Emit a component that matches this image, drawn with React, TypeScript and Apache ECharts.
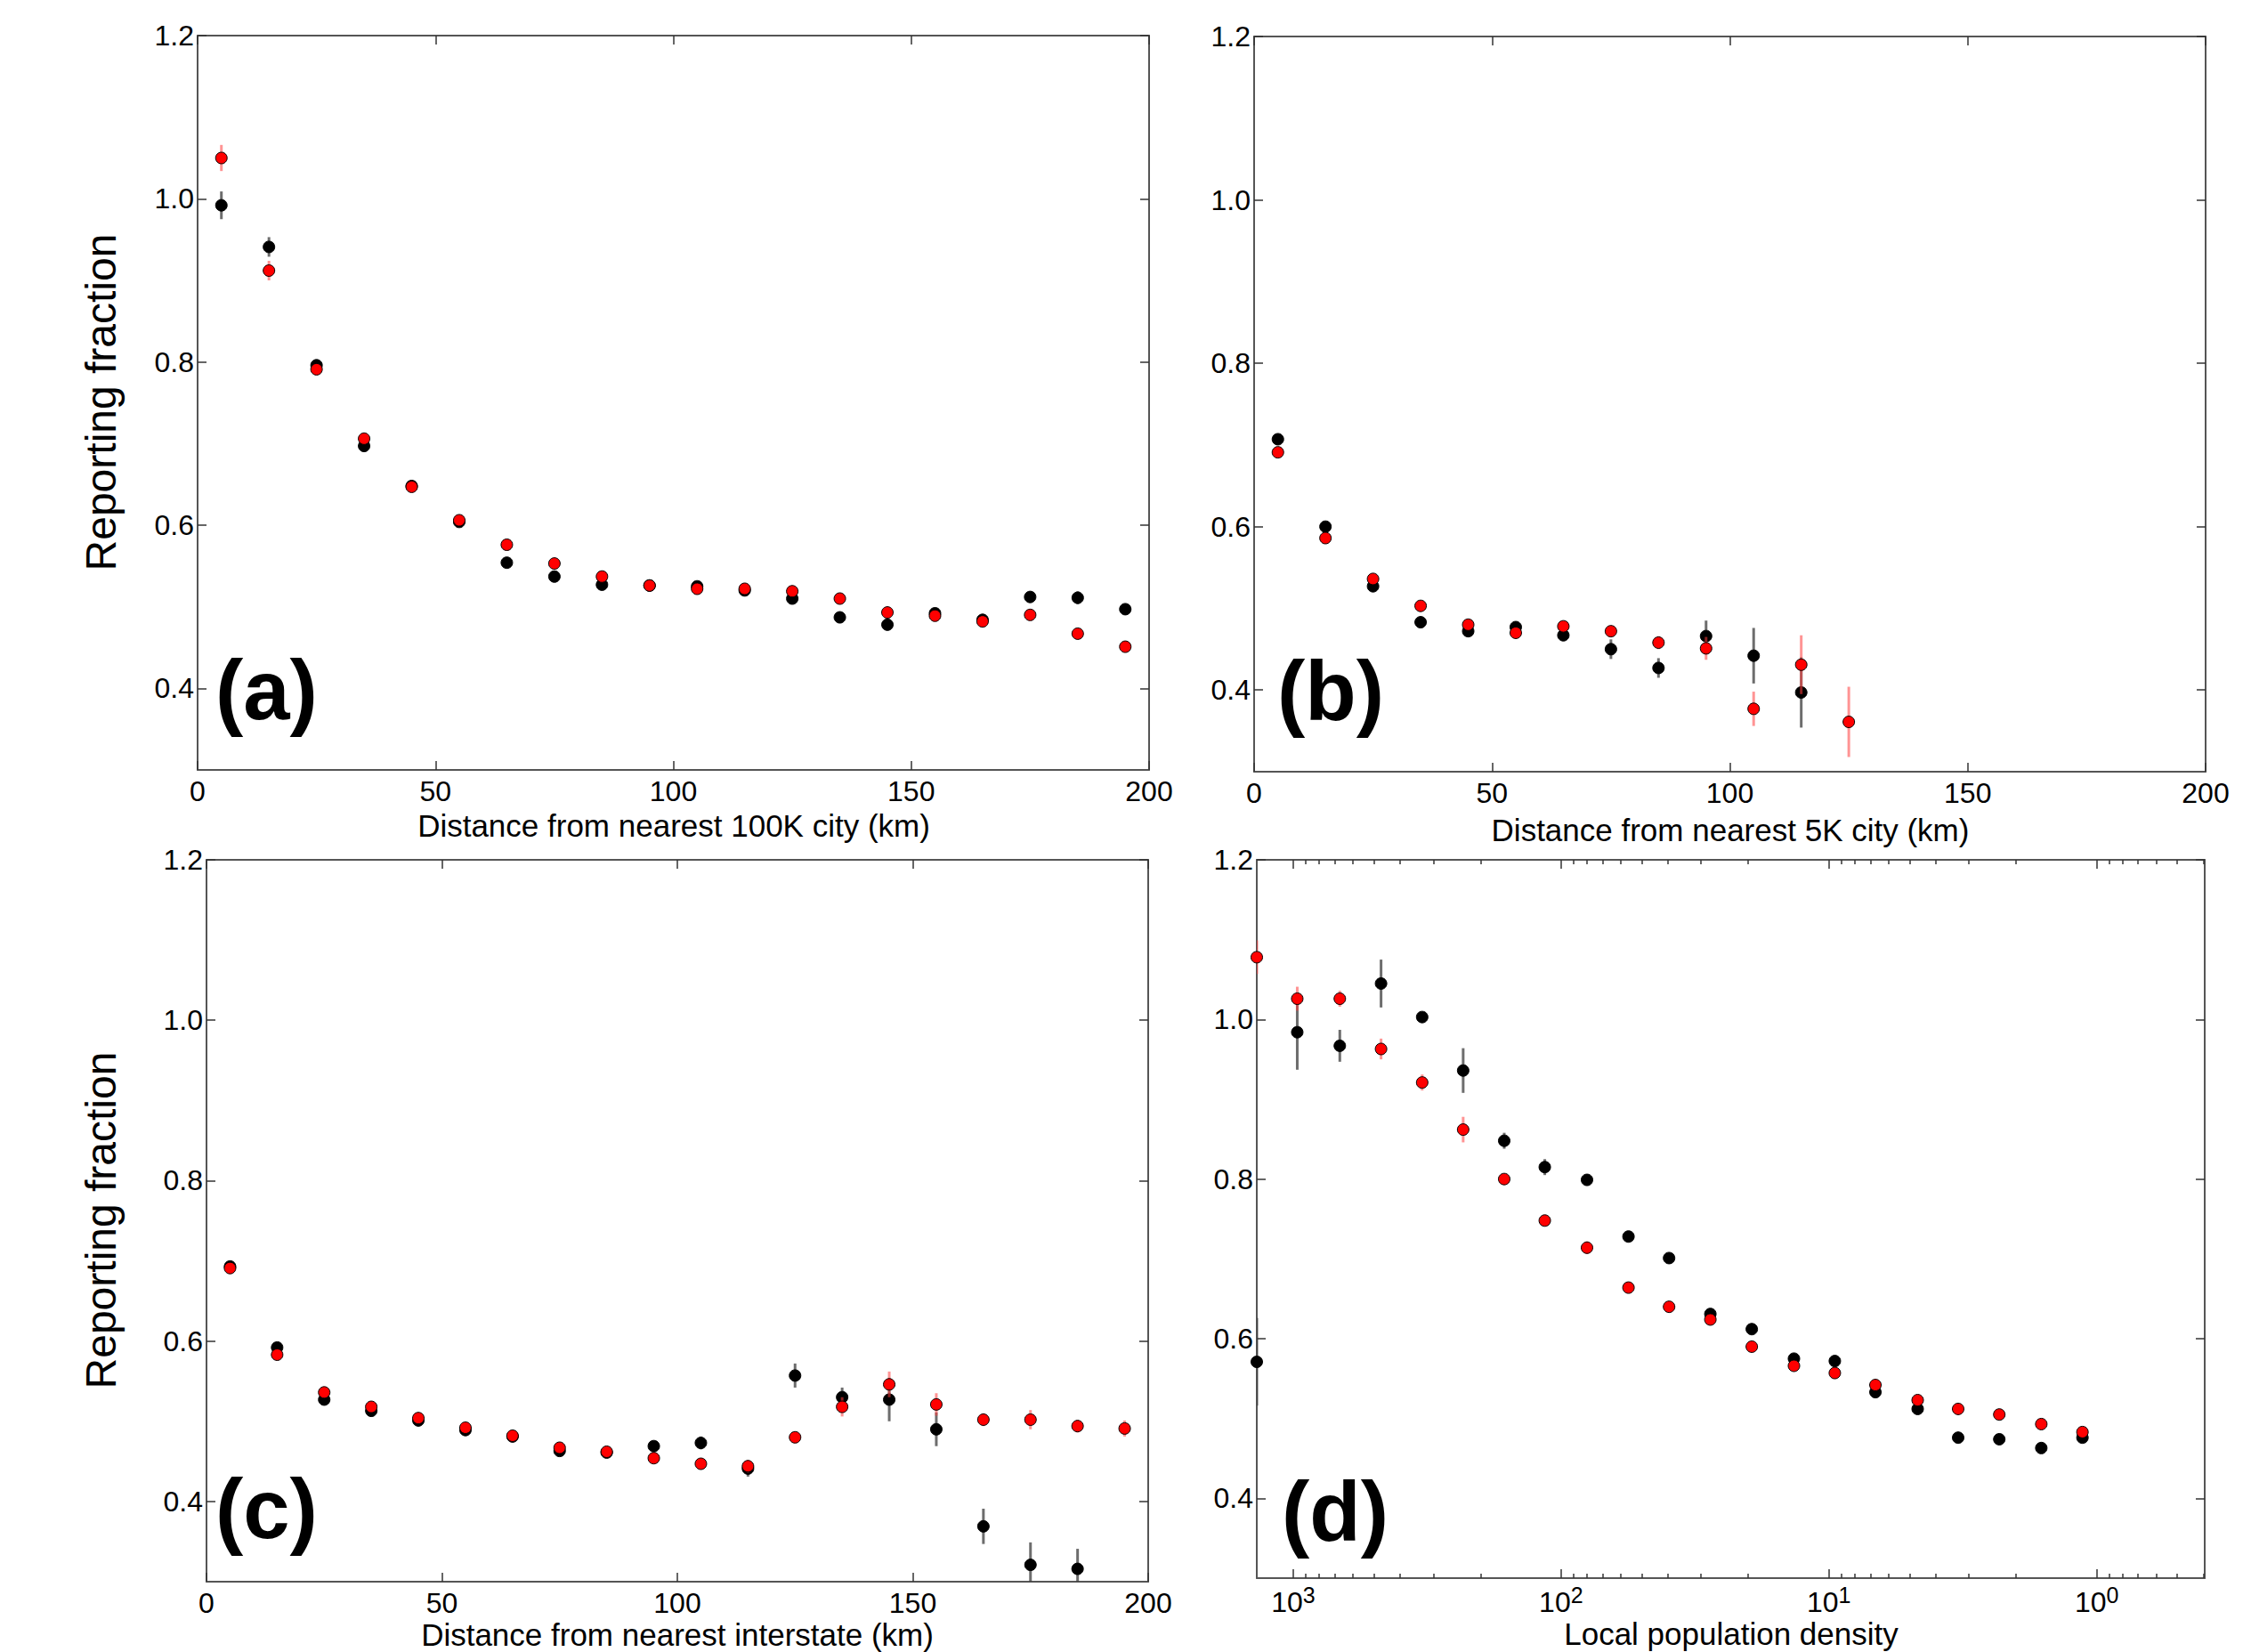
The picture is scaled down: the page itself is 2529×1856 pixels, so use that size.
import React, { useEffect, useRef } from "react";
import * as echarts from "echarts";

const FONT = "'Liberation Sans', Arial, Helvetica, sans-serif";

// ---------- shared axes ----------
const Y_RANGE = [0.3, 1.2];
const Y_TICKS = [0.4, 0.6, 0.8, 1.0, 1.2];
const X_RANGE = [0, 200];
const X_INTERVAL = 50;
const Y_TITLE = "Reporting fraction";

// ---------- panel (a) ----------
const A_X = [5, 15, 25, 35, 45, 55, 65, 75, 85, 95, 105, 115, 125, 135, 145, 155, 165, 175, 185, 195];
const A_BLACK_Y = [0.992, 0.941, 0.796, 0.697, 0.648, 0.604, 0.554, 0.537, 0.527, 0.526, 0.525, 0.52, 0.51, 0.487, 0.478, 0.492, 0.484, 0.512, 0.511, 0.497];
const A_BLACK_ERR = [0.017, 0.012, 0.006, 0.007, 0.005, 0.005, 0.005, 0.006, 0.004, 0.004, 0.004, 0.004, 0.005, 0.006, 0.006, 0.005, 0.005, 0.007, 0.008, 0.006];
const A_RED_Y = [1.05, 0.912, 0.791, 0.706, 0.647, 0.606, 0.576, 0.553, 0.537, 0.526, 0.522, 0.522, 0.519, 0.51, 0.493, 0.489, 0.482, 0.49, 0.467, 0.451];
const A_RED_ERR = [0.016, 0.012, 0.006, 0.005, 0.005, 0.004, 0.004, 0.004, 0.004, 0.004, 0.004, 0.004, 0.004, 0.004, 0.004, 0.004, 0.006, 0.004, 0.004, 0.004];
const A_TITLE = "Distance from nearest 100K city (km)";

// ---------- panel (b) ----------
const B_BLACK_X = [5, 15, 25, 35, 45, 55, 65, 75, 85, 95, 105, 115];
const B_BLACK_Y = [0.707, 0.6, 0.527, 0.483, 0.472, 0.477, 0.467, 0.45, 0.427, 0.466, 0.442, 0.397];
const B_BLACK_ERR = [0.004, 0.004, 0.004, 0.004, 0.004, 0.005, 0.006, 0.012, 0.012, 0.019, 0.034, 0.043];
const B_RED_X = [5, 15, 25, 35, 45, 55, 65, 75, 85, 95, 105, 115, 125];
const B_RED_Y = [0.691, 0.586, 0.536, 0.503, 0.48, 0.47, 0.478, 0.472, 0.458, 0.451, 0.377, 0.431, 0.361];
const B_RED_ERR = [0.004, 0.004, 0.004, 0.004, 0.004, 0.004, 0.005, 0.006, 0.008, 0.014, 0.021, 0.036, 0.043];
const B_TITLE = "Distance from nearest 5K city (km)";

// ---------- panel (c) ----------
const C_BLACK_X = [5, 15, 25, 35, 45, 55, 65, 75, 85, 95, 105, 115, 125, 135, 145, 155, 165, 175, 185];
const C_BLACK_Y = [0.693, 0.592, 0.527, 0.513, 0.501, 0.489, 0.481, 0.463, 0.461, 0.469, 0.473, 0.441, 0.557, 0.53, 0.527, 0.49, 0.369, 0.321, 0.316];
const C_BLACK_ERR = [0.004, 0.004, 0.004, 0.004, 0.004, 0.004, 0.004, 0.006, 0.005, 0.006, 0.008, 0.01, 0.015, 0.012, 0.027, 0.021, 0.022, 0.028, 0.025];
const C_RED_X = [5, 15, 25, 35, 45, 55, 65, 75, 85, 95, 105, 115, 125, 135, 145, 155, 165, 175, 185, 195];
const C_RED_Y = [0.691, 0.583, 0.536, 0.518, 0.504, 0.492, 0.482, 0.467, 0.462, 0.454, 0.447, 0.444, 0.48, 0.518, 0.546, 0.521, 0.502, 0.502, 0.494, 0.491];
const C_RED_ERR = [0.004, 0.004, 0.004, 0.004, 0.004, 0.004, 0.004, 0.004, 0.004, 0.004, 0.004, 0.008, 0.007, 0.012, 0.016, 0.014, 0.008, 0.012, 0.008, 0.01];
const C_TITLE = "Distance from nearest interstate (km)";

// ---------- panel (d) ----------
const D_DENSITY = [1368, 966, 670, 470, 330, 232, 163, 115, 80, 56, 39.5, 27.7, 19.4, 13.5, 9.5, 6.7, 4.66, 3.29, 2.31, 1.61, 1.13];
const D_BLACK_Y = [0.571, 0.984, 0.967, 1.045, 1.003, 0.936, 0.848, 0.815, 0.799, 0.728, 0.701, 0.631, 0.612, 0.575, 0.572, 0.533, 0.512, 0.476, 0.474, 0.463, 0.476];
const D_BLACK_ERR = [0.055, 0.047, 0.02, 0.03, 0.006, 0.028, 0.01, 0.01, 0.006, 0.006, 0.005, 0.005, 0.005, 0.005, 0.004, 0.005, 0.005, 0.004, 0.004, 0.004, 0.006];
const D_RED_Y = [1.078, 1.026, 1.026, 0.963, 0.921, 0.862, 0.8, 0.748, 0.714, 0.664, 0.64, 0.624, 0.59, 0.566, 0.557, 0.542, 0.523, 0.512, 0.505, 0.493, 0.483];
const D_RED_ERR = [0.021, 0.015, 0.01, 0.013, 0.01, 0.016, 0.006, 0.006, 0.008, 0.005, 0.004, 0.004, 0.004, 0.004, 0.004, 0.004, 0.004, 0.004, 0.004, 0.004, 0.004];
const D_LIMITS = [0.395, 1368]; // density range of the axis (reversed)
const D_DECADES = [0, 1, 2, 3]; // exponents of labelled ticks
const D_MANTISSAS = [2, 3, 4, 5, 6, 7, 8, 9];
const D_TITLE = "Local population density";

const PANEL_LETTERS = ["(a)", "(b)", "(c)", "(d)"];

// ---------- layout ----------
const GRIDS = [
  { left: 222, top: 40, width: 1069, height: 825 },
  { left: 1409, top: 41, width: 1069, height: 826 },
  { left: 232, top: 966, width: 1058, height: 811 },
  { left: 1412, top: 966, width: 1065, height: 807 },
];

const AXIS_LINE = { color: "#555", width: 2 };
const TICK_LINE = { color: "#333", width: 1.5 };
const BLACK = "#000000";
const RED = "#ff0000";
const BLACK_ERR_COLOR = "rgba(60,60,60,0.75)";
const RED_ERR_COLOR = "rgba(255,60,60,0.55)";

function buildOption() {
  const xAxes: any[] = [];
  const yAxes: any[] = [];
  const series: any[] = [];

  const labelStyle = { color: "#000", fontSize: 32, fontFamily: FONT };

  function addY(gi: number) {
    const base = {
      type: "value",
      gridIndex: gi,
      min: Y_RANGE[0],
      max: Y_RANGE[1],
      splitLine: { show: false },
      axisLine: { show: true, onZero: false, lineStyle: AXIS_LINE },
      axisTick: { show: true, inside: true, length: 10, customValues: Y_TICKS, lineStyle: TICK_LINE },
    };
    yAxes.push({
      ...base,
      position: "left",
      axisLabel: { ...labelStyle, margin: 4, customValues: Y_TICKS, formatter: (v: number) => v.toFixed(1) },
    });
    const leftIdx = yAxes.length - 1;
    yAxes.push({ ...base, position: "right", axisLabel: { show: false } });
    return leftIdx;
  }

  function addLinearX(gi: number) {
    const base = {
      type: "value",
      gridIndex: gi,
      min: X_RANGE[0],
      max: X_RANGE[1],
      interval: X_INTERVAL,
      splitLine: { show: false },
      axisLine: { show: true, onZero: false, lineStyle: AXIS_LINE },
      axisTick: { show: true, inside: true, length: 10, lineStyle: TICK_LINE },
    };
    xAxes.push({ ...base, position: "bottom", axisLabel: { ...labelStyle, margin: 8 } });
    const idx = xAxes.length - 1;
    xAxes.push({ ...base, position: "top", axisLabel: { show: false } });
    return idx;
  }

  function addLogX(gi: number) {
    const min = Math.log10(D_LIMITS[0]);
    const max = Math.log10(D_LIMITS[1]);
    const minor: number[] = [];
    for (let e = -1; e <= 3; e++) {
      for (const m of D_MANTISSAS) {
        const v = Math.log10(m * Math.pow(10, e));
        if (v >= min && v <= max) minor.push(v);
      }
    }
    const base = {
      type: "value",
      gridIndex: gi,
      min,
      max,
      inverse: true,
      splitLine: { show: false },
      axisLine: { show: true, onZero: false, lineStyle: AXIS_LINE },
    };
    xAxes.push({
      ...base,
      position: "bottom",
      axisTick: { show: true, inside: true, length: 10, customValues: D_DECADES, lineStyle: TICK_LINE },
      axisLabel: {
        margin: 6,
        customValues: D_DECADES,
        formatter: (v: number) => `{b|10}{s|${Math.round(v)}}`,
        rich: {
          b: { fontSize: 32, fontFamily: FONT, color: "#000", lineHeight: 42 },
          s: { fontSize: 25, fontFamily: FONT, color: "#000", lineHeight: 20, verticalAlign: "top" },
        },
      },
    });
    const idx = xAxes.length - 1;
    xAxes.push({
      ...base,
      position: "bottom",
      axisLine: { show: false, onZero: false },
      axisTick: { show: true, inside: true, length: 5, customValues: minor, lineStyle: TICK_LINE },
      axisLabel: { show: false },
    });
    xAxes.push({
      ...base,
      position: "top",
      axisTick: { show: true, inside: true, length: 10, customValues: D_DECADES, lineStyle: TICK_LINE },
      axisLabel: { show: false },
    });
    xAxes.push({
      ...base,
      position: "top",
      axisLine: { show: false, onZero: false },
      axisTick: { show: true, inside: true, length: 5, customValues: minor, lineStyle: TICK_LINE },
      axisLabel: { show: false },
    });
    return idx;
  }

  function errSeries(xi: number, yi: number, xs: number[], ys: number[], errs: number[], color: string, z: number) {
    return {
      type: "custom",
      xAxisIndex: xi,
      yAxisIndex: yi,
      clip: true,
      z,
      silent: true,
      data: xs.map((x, i) => [x, ys[i], errs[i]]),
      encode: { x: 0, y: 1 },
      renderItem: (_p: any, api: any) => {
        const x = api.value(0);
        const y = api.value(1);
        const e = api.value(2);
        const p1 = api.coord([x, y - e]);
        const p2 = api.coord([x, y + e]);
        return {
          type: "line",
          shape: { x1: p1[0], y1: p1[1], x2: p2[0], y2: p2[1] },
          style: { stroke: color, lineWidth: 3 },
        };
      },
    };
  }

  function dotSeries(xi: number, yi: number, xs: number[], ys: number[], color: string, z: number) {
    return {
      type: "scatter",
      xAxisIndex: xi,
      yAxisIndex: yi,
      z,
      symbol: "circle",
      symbolSize: 13,
      silent: true,
      itemStyle: { color, borderColor: "#000", borderWidth: 1, opacity: 1 },
      data: xs.map((x, i) => [x, ys[i]]),
    };
  }

  function addPanel(
    xi: number,
    yi: number,
    bx: number[], by: number[], be: number[],
    rx: number[], ry: number[], re: number[]
  ) {
    series.push(errSeries(xi, yi, bx, by, be, BLACK_ERR_COLOR, 2));
    series.push(dotSeries(xi, yi, bx, by, BLACK, 3));
    series.push(errSeries(xi, yi, rx, ry, re, RED_ERR_COLOR, 4));
    series.push(dotSeries(xi, yi, rx, ry, RED, 5));
  }

  // (a)
  let yi = addY(0);
  let xi = addLinearX(0);
  addPanel(xi, yi, A_X, A_BLACK_Y, A_BLACK_ERR, A_X, A_RED_Y, A_RED_ERR);
  // (b)
  yi = addY(1);
  xi = addLinearX(1);
  addPanel(xi, yi, B_BLACK_X, B_BLACK_Y, B_BLACK_ERR, B_RED_X, B_RED_Y, B_RED_ERR);
  // (c)
  yi = addY(2);
  xi = addLinearX(2);
  addPanel(xi, yi, C_BLACK_X, C_BLACK_Y, C_BLACK_ERR, C_RED_X, C_RED_Y, C_RED_ERR);
  // (d)
  yi = addY(3);
  xi = addLogX(3);
  const dLog = D_DENSITY.map((d) => Math.log10(d));
  addPanel(xi, yi, dLog, D_BLACK_Y, D_BLACK_ERR, dLog, D_RED_Y, D_RED_ERR);

  const titleStyle = { fontSize: 35, fontFamily: FONT, fill: "#000", align: "center", verticalAlign: "middle" };
  const letterStyle = { fontSize: 94, fontWeight: "bold", fontFamily: FONT, fill: "#000", align: "left", verticalAlign: "middle" };

  const xTitles = [A_TITLE, B_TITLE, C_TITLE, D_TITLE];
  const xTitlePos = [
    [757, 927],
    [1944, 932],
    [761, 1836],
    [1945, 1835],
  ];
  const letterPos = [
    [242, 775],
    [1435, 776],
    [242, 1695],
    [1440, 1698],
  ];

  const graphic: any[] = [];
  xTitles.forEach((t, i) => {
    graphic.push({ type: "text", x: xTitlePos[i][0], y: xTitlePos[i][1], style: { ...titleStyle, text: t } });
  });
  PANEL_LETTERS.forEach((t, i) => {
    graphic.push({ type: "text", x: letterPos[i][0], y: letterPos[i][1], z: 10, style: { ...letterStyle, text: t } });
  });
  [452, 1371].forEach((cy) => {
    graphic.push({
      type: "text",
      x: 113,
      y: cy,
      rotation: Math.PI / 2,
      style: { ...titleStyle, fontSize: 48, text: Y_TITLE },
    });
  });

  return {
    animation: false,
    backgroundColor: "#ffffff",
    grid: GRIDS.map((g) => ({ ...g, containLabel: false })),
    xAxis: xAxes,
    yAxis: yAxes,
    series,
    graphic,
  };
}

export default function App() {
  const ref = useRef<HTMLDivElement>(null);
  useEffect(() => {
    if (!ref.current) return;
    const chart = echarts.init(ref.current, undefined, { renderer: "svg" });
    chart.setOption(buildOption() as any);
    return () => chart.dispose();
  }, []);
  return (
    <div
      ref={ref}
      style={{ position: "absolute", left: 0, top: 0, width: 2529, height: 1856, background: "#fff" }}
    />
  );
}
